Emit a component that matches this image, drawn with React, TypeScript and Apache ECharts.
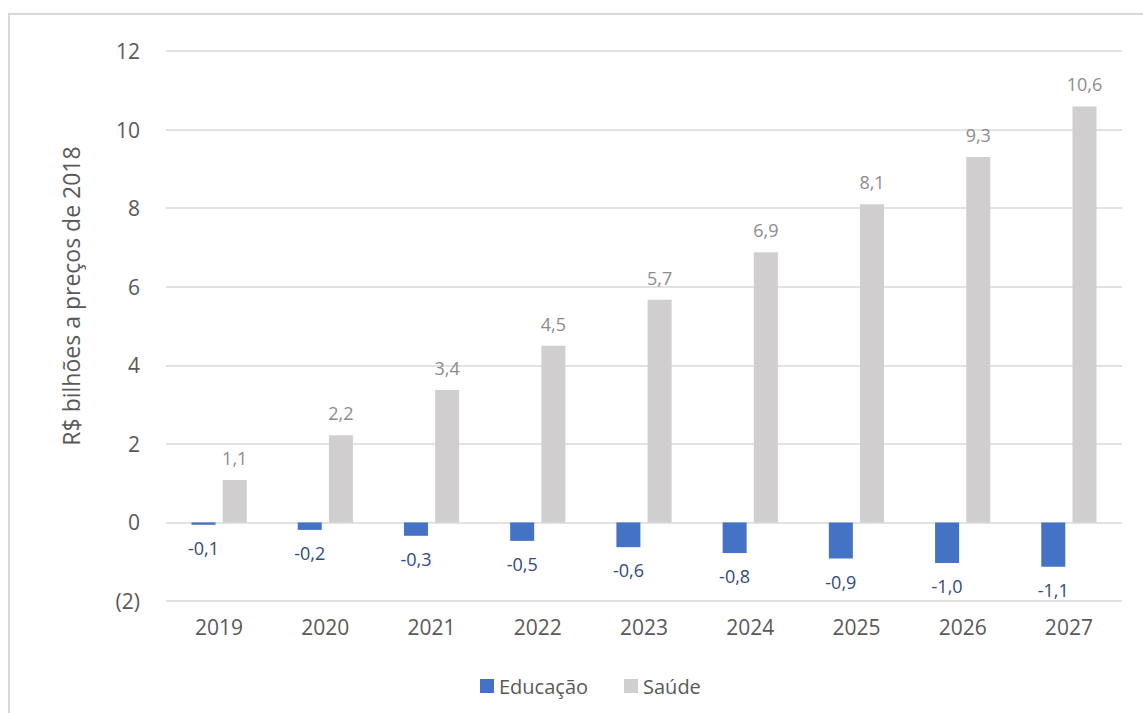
import React, { useEffect, useRef } from "react";
import * as echarts from "echarts";

const categories = ["2019", "2020", "2021", "2022", "2023", "2024", "2025", "2026", "2027"];
const educacao = [-0.06, -0.19, -0.34, -0.47, -0.63, -0.78, -0.92, -1.03, -1.13];
const saude = [1.08, 2.22, 3.37, 4.5, 5.67, 6.88, 8.1, 9.3, 10.59];
const yTitle = "R$ bilhões a preços de 2018";

const FONT = "'Open Sans', 'Noto Sans', sans-serif";
const fmt = (v: number) => v.toFixed(1).replace(".", ",");

export default function App() {
  const ref = useRef<HTMLDivElement>(null);
  useEffect(() => {
    if (!ref.current) return;
    const chart = echarts.init(ref.current, null, { renderer: "svg" });
    chart.setOption({
      animation: false,
      backgroundColor: "#ffffff",
      textStyle: { fontFamily: FONT },
      grid: { left: 166, right: 21, top: 51, bottom: 112, containLabel: false },
      legend: {
        data: ["Educação", "Saúde"],
        left: 475,
        top: 671,
        itemWidth: 14,
        itemHeight: 14,
        itemGap: 36,
        icon: "rect",
        textStyle: { fontFamily: FONT, fontSize: 20, color: "#595959" },
      },
      graphic: [
        {
          type: "rect",
          shape: { x: 9, y: 14, width: 1300, height: 900 },
          style: { fill: "none", stroke: "#D9D9D9", lineWidth: 2 },
          silent: true,
        },
        {
          type: "text",
          x: 71,
          y: 296,
          rotation: Math.PI / 2,
          style: {
            text: yTitle,
            fontFamily: FONT,
            fontSize: 23,
            fill: "#595959",
            align: "center",
            verticalAlign: "middle",
          },
        },
      ],
      xAxis: {
        type: "category",
        data: categories,
        axisLine: { show: false, onZero: false },
        axisTick: { show: false },
        axisLabel: { color: "#595959", fontSize: 21, margin: 15, fontFamily: FONT },
      },
      yAxis: {
        type: "value",
        min: -2,
        max: 12,
        interval: 2,
        axisLine: { show: false },
        axisTick: { show: false },
        splitLine: { lineStyle: { color: "#D9D9D9", width: 1.5 } },
        axisLabel: {
          color: "#595959",
          fontSize: 21,
          margin: 26,
          fontFamily: FONT,
          formatter: (v: number) => (v < 0 ? `(${Math.abs(v)})` : `${v}`),
        },
      },
      series: [
        {
          name: "Educação",
          type: "bar",
          data: educacao,
          barWidth: 24,
          barGap: "30%",
          itemStyle: { color: "#4472C4" },
          label: {
            show: true,
            position: "bottom",
            distance: 14,
            color: "#2F4A7E",
            fontSize: 18,
            fontFamily: FONT,
            formatter: (p: any) => fmt(p.value),
          },
        },
        {
          name: "Saúde",
          type: "bar",
          data: saude,
          barWidth: 24,
          itemStyle: { color: "#D0CECE" },
          label: {
            show: true,
            position: "top",
            distance: 13,
            color: "#8C8C8C",
            fontSize: 18,
            fontFamily: FONT,
            formatter: (p: any) => fmt(p.value),
          },
        },
      ],
    });
    return () => chart.dispose();
  }, []);
  return (
    <div
      ref={ref}
      style={{ position: "absolute", left: 0, top: 0, width: 1143, height: 713 }}
    />
  );
}
